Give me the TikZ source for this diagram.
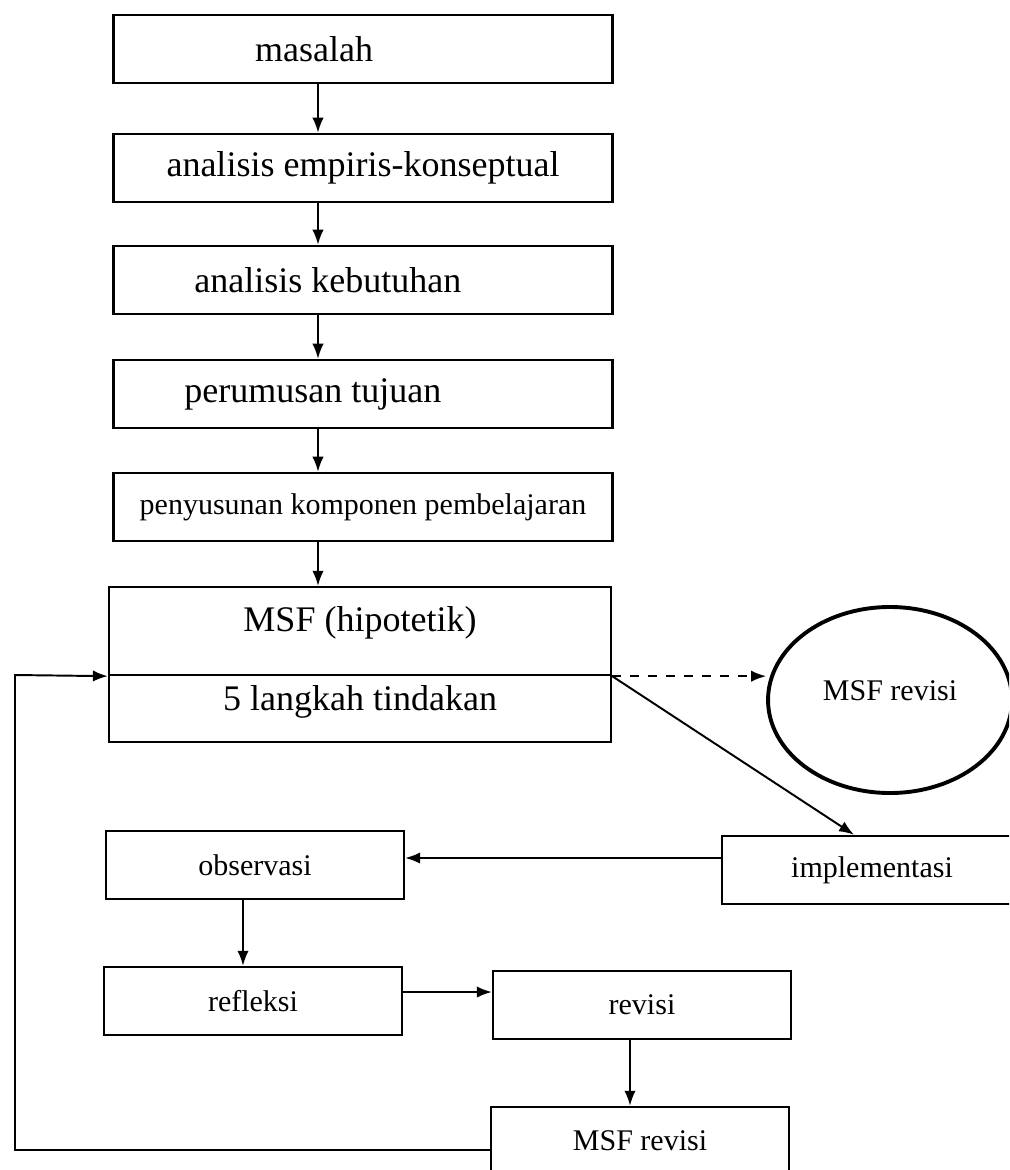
\documentclass[tikz,border=0pt]{standalone}
\usepackage{fontspec}
\setmainfont{Liberation Serif}
\usetikzlibrary{shapes.geometric,arrows.meta}

\begin{document}
\begin{tikzpicture}[->, >={Latex[length=5pt, width=3.8pt]}, x=0.3333pt, y=-0.3333pt, line width=0.65pt,
    kotak/.style={draw, rectangle, line width=0.8pt, inner sep=0pt, minimum width=166.3pt, minimum height=22.7pt, font=\large},
    kecil/.style={kotak, minimum width=99.3pt, font=\normalsize}]
    \clip (0,0) rectangle (1009,1170);

    % Nodes
    \node[kotak, label={[xshift=-16.3pt, font=\large]center:masalah}] (0) at (363,49) {};
    \node[kotak] (1) at (363,168) {analisis empiris-konseptual};
    \node[kotak, label={[xshift=-11.7pt, font=\large]center:analisis kebutuhan}] (2) at (363,280) {};
    \node[kotak, label={[xshift=-16.7pt, font=\large]center:perumusan tujuan}] (3) at (363,394) {};
    \node[kotak, font=\normalsize] (4) at (363,507) {penyusunan komponen pembelajaran};
    \node[kotak, minimum width=167.3pt, minimum height=29.3pt, text depth=8pt] (5) at (360,631) {MSF (hipotetik)};
    \node[kotak, minimum width=167.3pt, minimum height=22.3pt, text depth=7pt] (6) at (360,708.5) {5 langkah tindakan};
    \node[draw, ellipse, line width=1.3pt, minimum width=81.3pt, minimum height=62pt, text depth=6.5pt] (7) at (890,700) {MSF revisi};
    \node[kecil, minimum width=100pt] (8) at (872,870) {implementasi};
    \node[kecil] (9) at (255,865) {observasi};
    \node[kecil] (10) at (253,1001) {refleksi};
    \node[kecil] (11) at (642,1005) {revisi};
    \node[kecil] (12) at (640,1141) {MSF revisi};
    \coordinate (13) at (15,675);

    % Edges
    \draw ([xshift=-15pt]0.south) -- ([xshift=-15pt]0.south |- 1.north);
    \draw ([xshift=-15pt]1.south) -- ([xshift=-15pt]1.south |- 2.north);
    \draw ([xshift=-15pt]2.south) -- ([xshift=-15pt]2.south |- 3.north);
    \draw ([xshift=-15pt]3.south) -- ([xshift=-15pt]3.south |- 4.north);
    \draw ([xshift=-15pt]4.south) -- ([xshift=-15pt]4.south |- 5.north);

    \draw[dashed] (5.south east) -- (7.west |- 5.south east);
    \draw (5.south east) -- ([xshift=-6pt]8.north);
    \draw ([yshift=4pt]8.west) -- ([yshift=4pt]8.west -| 9.east);
    \draw ([xshift=-4pt]9.south) -- ([xshift=-4pt]9.south |- 10.north);
    \draw ([yshift=3pt]10.east) -- ([yshift=3pt]10.east -| 11.west);
    \draw ([xshift=-4pt]11.south) -- ([xshift=-4pt]11.south |- 12.north);
    \draw ([yshift=-3pt]12.west) -| (13) -- (5.south west);

\end{tikzpicture}
\end{document}
